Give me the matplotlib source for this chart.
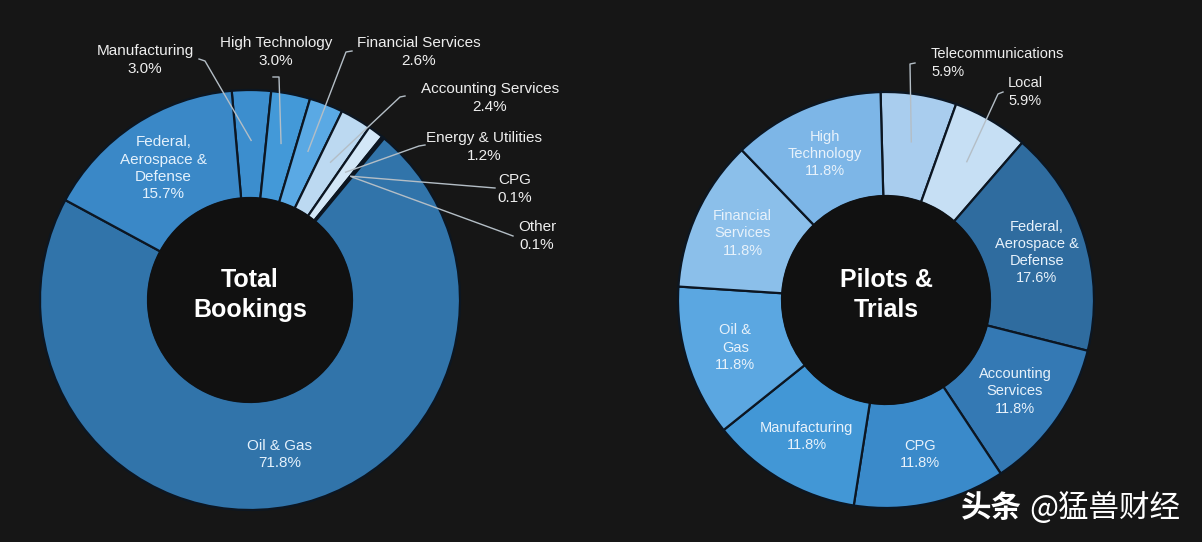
import matplotlib
matplotlib.use("Agg")
import matplotlib.pyplot as plt
import numpy as np
from matplotlib.patches import Circle

W, H = 1202, 542
BG = "#161616"
plt.rcParams['font.family'] = ['Liberation Sans', 'DejaVu Sans']

# ---- data: Total Bookings (clockwise from top) ----
left_names = ["Manufacturing", "High Technology", "Financial Services",
              "Accounting Services", "Energy & Utilities", "CPG", "Other",
              "Oil & Gas", "Federal,\nAerospace &\nDefense"]
left_values = [3.0, 3.0, 2.6, 2.4, 1.2, 0.1, 0.1, 71.8, 15.7]
left_colors = ["#3c8ece", "#4399d8", "#5aa9e4", "#bcd9f1", "#d3e7f7",
               "#6fb3e6", "#6fb3e6", "#3174aa", "#3a88c7"]
left_explode = [0, 0, 0, 0.025, 0.025, 0, 0, 0, 0]
left_inside = ["Oil & Gas", "Federal,\nAerospace &\nDefense"]

# ---- data: Pilots & Trials (clockwise from top) ----
right_names = ["Telecommunications", "Local", "Federal,\nAerospace &\nDefense",
               "Accounting\nServices", "CPG", "Manufacturing", "Oil &\nGas",
               "Financial\nServices", "High\nTechnology"]
right_values = [5.9, 5.9, 17.6, 11.8, 11.8, 11.8, 11.8, 11.8, 11.8]
right_colors = ["#a9cdee", "#c6dff4", "#2f6c9f", "#3479b4", "#3a8aca",
                "#4297d6", "#5ba7e1", "#8bbfea", "#7db6e7"]
right_outside = ["Telecommunications", "Local"]

# label placement in image pixels (x, y from top), leader knee points
left_outer = {
    "Manufacturing": ((145, 60), "center", [(199, 59), (205, 61)]),
    "High Technology": ((276, 52), "center", [(273, 77), (279, 77)]),
    "Financial Services": ((419, 52), "center", [(352, 51), (346, 52)]),
    "Accounting Services": ((490, 98), "center", [(405, 96), (400, 97)]),
    "Energy & Utilities": ((484, 147), "center", [(425, 145), (419, 146)]),
    "CPG": ((515, 189), "center", [(495, 188)]),
    "Other": ((537, 236), "center", [(513, 236), (505, 233)]),
}
right_outer = {
    "Telecommunications": ((931, 63), "left", [(915, 63), (910, 64)]),
    "Local": ((1008, 92), "left", [(1003, 92), (998, 94)]),
}

fig = plt.figure(figsize=(W / 100, H / 100), dpi=100, facecolor=BG)
ax = fig.add_axes([0, 0, 1, 1])
ax.set_facecolor(BG)


def img(p):
    return (p[0], H - p[1])


def mid(w, frac):
    t = np.deg2rad((w.theta1 + w.theta2) / 2)
    cx, cy = w.center
    return cx + frac * w.r * np.cos(t), cy + frac * w.r * np.sin(t)


def donut(center, radius, width, values, colors, startangle, explode=None):
    wedges, _ = ax.pie(values, colors=colors, startangle=startangle,
                       counterclock=False, center=center, radius=radius,
                       explode=explode,
                       wedgeprops=dict(width=width, edgecolor="#0c1622",
                                       linewidth=1.6))
    ax.add_patch(Circle(center, radius - width, color="#111111", zorder=3))
    return wedges


lc = img((250, 300))
lw = donut(lc, 210, 108, left_values, left_colors, 95, left_explode)
rc = img((886, 300))
rw = donut(rc, 208, 104, right_values, right_colors, 91.5)

# centre titles
ax.text(lc[0], lc[1] + 5, "Total\nBookings", ha="center", va="center",
        fontsize=18, fontweight="bold", color="white", linespacing=1.35,
        zorder=5)
ax.text(rc[0], rc[1] + 5, "Pilots &\nTrials", ha="center", va="center",
        fontsize=18, fontweight="bold", color="white", linespacing=1.35,
        zorder=5)

# left labels
for w, name, val in zip(lw, left_names, left_values):
    txt = "%s\n%.1f%%" % (name, val)
    if name in left_inside:
        x, y = mid(w, 0.75)
        ax.text(x, y, txt, ha="center", va="center", fontsize=11,
                color="#e4f1fc", linespacing=1.3, zorder=5)
    else:
        pos, ha, knee = left_outer[name]
        ax.text(*img(pos), txt, ha=ha, va="center", fontsize=11,
                color="#eeeeee", linespacing=1.45, zorder=5)
        pts = [img(p) for p in knee] + [mid(w, 0.76)]
        xs, ys = zip(*pts)
        ax.plot(xs, ys, color="#b4bec6", lw=1.0, zorder=4)

# right labels
for w, name, val in zip(rw, right_names, right_values):
    txt = "%s\n%.1f%%" % (name, val)
    if name in right_outside:
        pos, ha, knee = right_outer[name]
        ax.text(*img(pos), txt, ha=ha, va="center", fontsize=10.5,
                color="#eeeeee", linespacing=1.3, zorder=5)
        pts = [img(p) for p in knee] + [mid(w, 0.77)]
        xs, ys = zip(*pts)
        ax.plot(xs, ys, color="#b4bec6", lw=1.0, zorder=4)
    else:
        x, y = mid(w, 0.76)
        ax.text(x, y, txt, ha="center", va="center", fontsize=10.5,
                color="#e8f2fb", linespacing=1.3, zorder=5)

# watermark
cjk = ["Noto Sans CJK SC", "DejaVu Sans"]
ax.text(961, H - 508, "头条", ha="left", va="center", fontsize=22,
        fontweight="bold", color="white", family=cjk, zorder=6)
ax.text(1029, H - 508, "@猛兽财经", ha="left", va="center", fontsize=22,
        color="white", family=cjk, zorder=6)

ax.set_xlim(0, W)
ax.set_ylim(0, H)
ax.set_aspect("equal")
ax.axis("off")

fig.savefig("out.png", dpi=100, facecolor=BG)
